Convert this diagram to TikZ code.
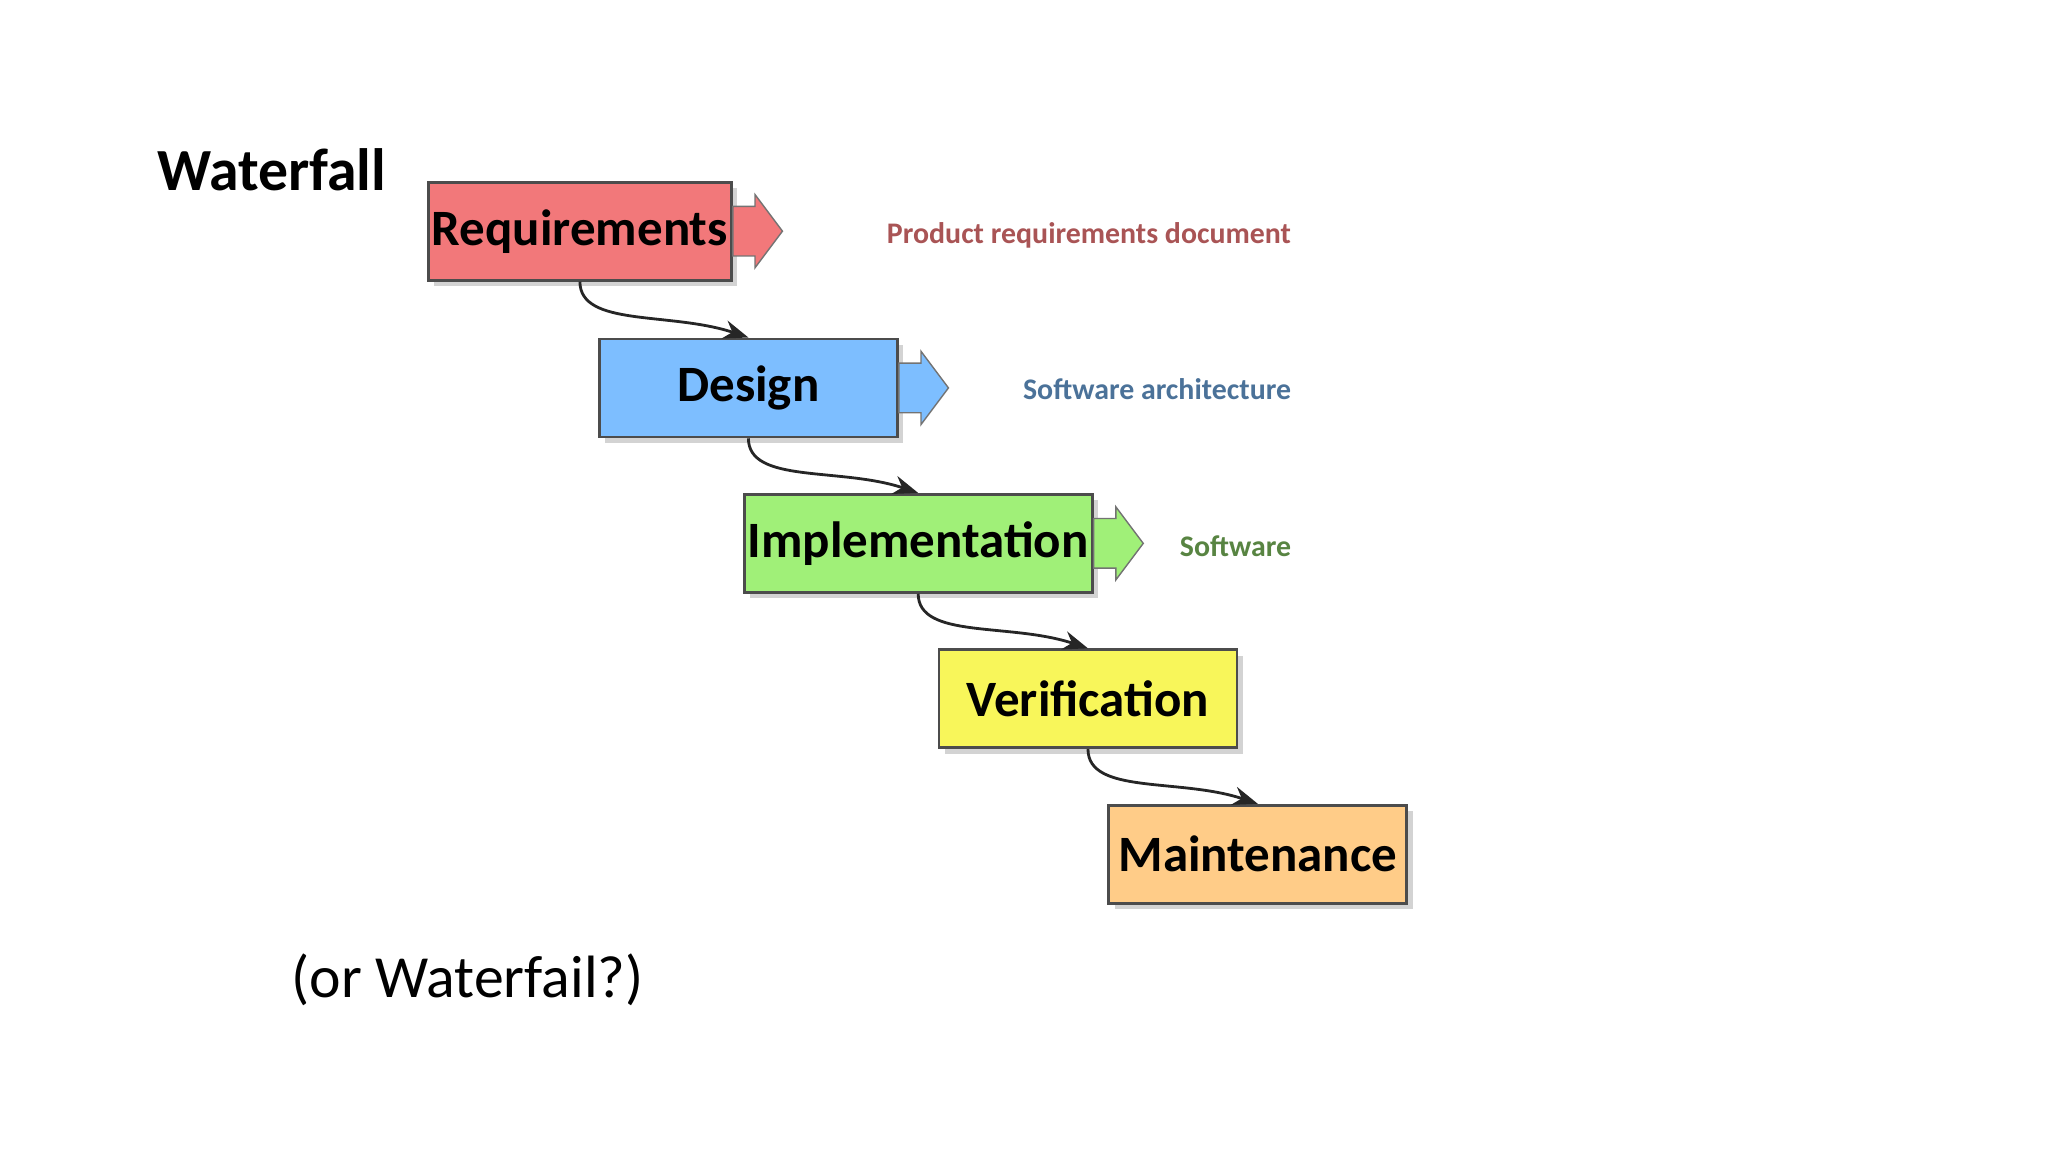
\documentclass[tikz,border=0pt]{standalone}
\usepackage{fontspec}
\setmainfont{Carlito}
\usetikzlibrary{arrows.meta, positioning, shadows}
\definecolor{reqred}{RGB}{242,120,122}
\definecolor{desblue}{RGB}{125,190,255}
\definecolor{impgreen}{RGB}{160,240,120}
\definecolor{veryellow}{RGB}{248,246,90}
\definecolor{mainorange}{RGB}{255,204,136}
\tikzset{
  phase/.style={draw=black!70, thick, minimum width=2.98cm, minimum height=0.98cm, inner sep=1pt,
    font=\fontsize{14.5}{16}\selectfont\bfseries, drop shadow={opacity=.35, shadow xshift=.6mm, shadow yshift=-.6mm}},
  flow/.style={-{Stealth[length=2.5mm]}, thick, black!85},
  product/.style={anchor=east, font=\fontsize{8.5}{10}\selectfont\bfseries},
  fat/.style={draw=black!55, fill=#1}
}
\begin{document}
\begin{tikzpicture}[x=0.01306cm, y=-0.01306cm]
  \useasboundingbox (0,0) rectangle (1568,882);
  \node[font=\fontsize{17}{20}\selectfont\bfseries] (title) at (208,130) {Waterfall};
  \node[font=\fontsize{17}{20}\selectfont] (note) at (358,750) {(or Waterfail?)};

  % phases
  \node[phase, fill=reqred] (req) at (444,177) {Requirements};
  \node[phase, fill=desblue] (des) at (573,297) {Design};
  \node[phase, fill=impgreen] (imp) at (703,416) {Implementation};
  \node[phase, fill=veryellow] (ver) at (833,535) {Verification};
  \node[phase, fill=mainorange] (mnt) at (963,654) {Maintenance};

  % outputs
  \foreach \b/\c in {req/reqred, des/desblue, imp/impgreen}{
    \draw[fat=\c] (\b.east) ++(0,-19) -- ++(17,0) -- ++(0,-9) -- ++(21,28)
      -- ++(-21,28) -- ++(0,-9) -- ++(-17,0) -- cycle;
  }
  \node[product, text=reqred!70!black] (preq) at (998,180) {Product requirements document};
  \node[product, text=desblue!60!black] (pdes) at (998,298) {Software architecture};
  \node[product, text=impgreen!55!black] (pimp) at (998,418) {Software};

  % flow between phases
  \foreach \a/\b in {req/des, des/imp, imp/ver, ver/mnt}{
    \draw[flow] (\a.south) .. controls +(0,35) and +(-60,-20) .. (\b.north);
  }
\end{tikzpicture}
\end{document}
